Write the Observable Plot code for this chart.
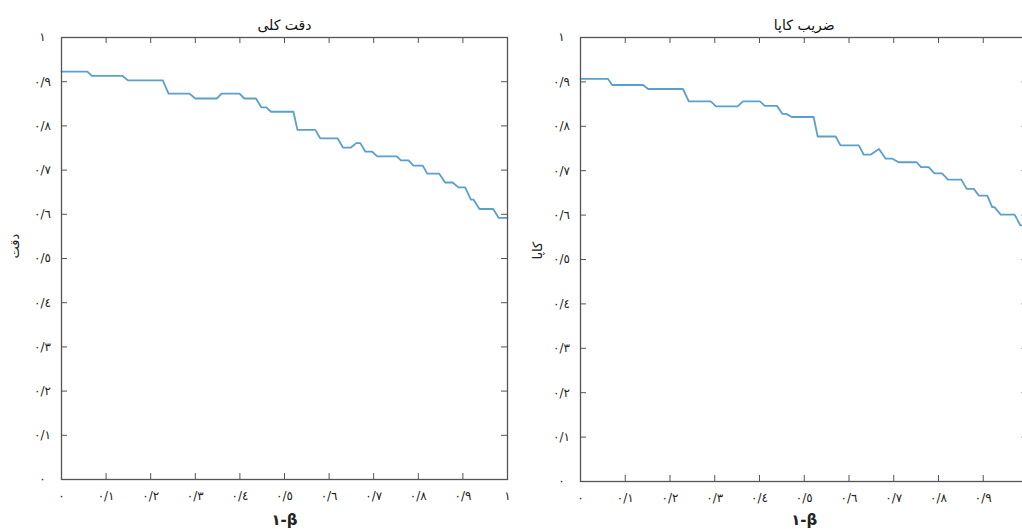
<!DOCTYPE html>
<html>
<head>
<meta charset="utf-8">
<script src="https://cdn.jsdelivr.net/npm/d3@7"></script>
<script src="https://cdn.jsdelivr.net/npm/@observablehq/plot@0.6"></script>
<style>
  html, body { margin: 0; padding: 0; background: #fff; overflow: hidden; }
  #wrap { position: relative; width: 1022px; height: 529px; overflow: hidden; }
  .panel { position: absolute; top: 0; width: 520px; height: 529px; }
  .panel svg { overflow: visible; max-width: none !important; }
</style>
</head>
<body>
<div id="wrap">
  <div class="panel" id="left" style="left:0px"></div>
  <div class="panel" id="right" style="left:519px"></div>
</div>
<script>
// Tick values and labels (Arabic-Indic digits, "/" as decimal separator)
const tickValues = [0, 0.1, 0.2, 0.3, 0.4, 0.5, 0.6, 0.7, 0.8, 0.9, 1];
const tickLabels = ["٠", "٠/١", "٠/٢", "٠/٣", "٠/٤", "٠/٥", "٠/٦", "٠/٧", "٠/٨", "٠/٩", "١"];

const xLabel = "١-β";
const titles = ["دقت کلی", "ضریب کاپا"];
const yLabels = ["دقت", "کاپا"];

// Overall accuracy (left panel) — step curve vertices
const accX = [0, 0.058, 0.068, 0.137, 0.149, 0.227, 0.240, 0.287, 0.300, 0.348, 0.359, 0.399, 0.410, 0.436, 0.448, 0.459, 0.470, 0.520, 0.529, 0.569, 0.580, 0.619, 0.631, 0.649, 0.661, 0.670, 0.681, 0.696, 0.708, 0.752, 0.761, 0.778, 0.789, 0.810, 0.820, 0.847, 0.860, 0.877, 0.890, 0.905, 0.918, 0.924, 0.937, 0.968, 0.980, 1.0];
const accY = [0.923, 0.923, 0.913, 0.913, 0.903, 0.903, 0.873, 0.873, 0.862, 0.862, 0.873, 0.873, 0.862, 0.862, 0.842, 0.842, 0.832, 0.832, 0.791, 0.791, 0.772, 0.772, 0.751, 0.751, 0.761, 0.761, 0.742, 0.742, 0.731, 0.731, 0.722, 0.722, 0.710, 0.710, 0.692, 0.692, 0.672, 0.672, 0.661, 0.661, 0.633, 0.633, 0.612, 0.612, 0.592, 0.592];

// Kappa coefficient (right panel) — step curve vertices
const kapX = [0, 0.061, 0.071, 0.140, 0.151, 0.229, 0.242, 0.291, 0.303, 0.351, 0.363, 0.401, 0.412, 0.439, 0.451, 0.460, 0.472, 0.521, 0.530, 0.570, 0.581, 0.622, 0.633, 0.648, 0.667, 0.682, 0.697, 0.711, 0.751, 0.761, 0.778, 0.791, 0.808, 0.821, 0.851, 0.863, 0.879, 0.890, 0.909, 0.920, 0.925, 0.939, 0.970, 0.983, 1.0];
const kapY = [0.907, 0.907, 0.893, 0.893, 0.884, 0.884, 0.856, 0.856, 0.845, 0.845, 0.856, 0.856, 0.846, 0.846, 0.828, 0.828, 0.821, 0.821, 0.777, 0.777, 0.757, 0.757, 0.736, 0.736, 0.749, 0.727, 0.727, 0.719, 0.719, 0.708, 0.708, 0.694, 0.694, 0.680, 0.680, 0.659, 0.659, 0.644, 0.644, 0.618, 0.618, 0.601, 0.601, 0.577, 0.577];

const FONT = "DejaVu Sans, Noto Sans, sans-serif";
const LINE = "#5aa0cc";
const FRAME = "#555";
const fmt = d => tickLabels[Math.round(d * 10)];

function panel(xs, ys, title, ylabel, opts) {
  const W = opts.width, H = 529;
  const mL = 61, mT = 37, mB = opts.mB, mR = opts.mR;
  const pw = W - mL - mR, ph = H - mT - mB;
  const TK = 6;
  const data = xs.map((x, i) => ({x, y: ys[i]}));
  return Plot.plot({
    width: W, height: H,
    marginLeft: mL, marginRight: mR, marginTop: mT, marginBottom: mB,
    style: {fontFamily: FONT, background: "transparent", color: "#222", maxWidth: "none"},
    x: {domain: [0, 1]},
    y: {domain: [0, 1]},
    marks: [
      Plot.line(data, {x: "x", y: "y", stroke: LINE, strokeWidth: 1.8}),
      Plot.frame({stroke: FRAME, strokeWidth: 1.3}),
      // inward ticks on all four sides
      Plot.tickX(tickValues, {x: d => d, stroke: FRAME, insetTop: ph - TK}),
      Plot.tickX(tickValues, {x: d => d, stroke: FRAME, insetBottom: ph - TK}),
      Plot.tickY(tickValues, {y: d => d, stroke: FRAME, insetRight: pw - TK}),
      Plot.tickY(tickValues, {y: d => d, stroke: FRAME, insetLeft: pw - TK}),
      Plot.axisX({anchor: "bottom", ticks: opts.xLabelTicks, tickFormat: fmt, tickSize: 0, tickPadding: 12, fontSize: 12, label: null}),
      Plot.axisY({anchor: "left", ticks: tickValues, tickFormat: fmt, tickSize: 0, tickPadding: 19, textAnchor: "middle", fontSize: 12, label: null}),
      Plot.text([title], {text: d => d, frameAnchor: "top", dy: -17, fontSize: 14, fill: "#111"}),
      Plot.text([xLabel], {text: d => d, frameAnchor: "bottom", dy: mB - 5, fontSize: 15, fontWeight: "bold", fill: "#222"}),
      Plot.text([ylabel], {text: d => d, frameAnchor: "left", dx: opts.yLabelDx, rotate: -90, fontSize: 13, fill: "#222"})
    ]
  });
}

document.getElementById("left").appendChild(
  panel(accX, accY, titles[0], yLabels[0], {width: 520, mR: 13, mB: 50, yLabelDx: -47, xLabelTicks: tickValues})
);
// the right panel's frame runs past the page edge, so its last tick label (١) is off-page, as in the reference
document.getElementById("right").appendChild(
  panel(kapX, kapY, titles[1], yLabels[1], {width: 520, mR: 11.5, mB: 48, yLabelDx: -43, xLabelTicks: tickValues.slice(0, -1)})
);
</script>
</body>
</html>
